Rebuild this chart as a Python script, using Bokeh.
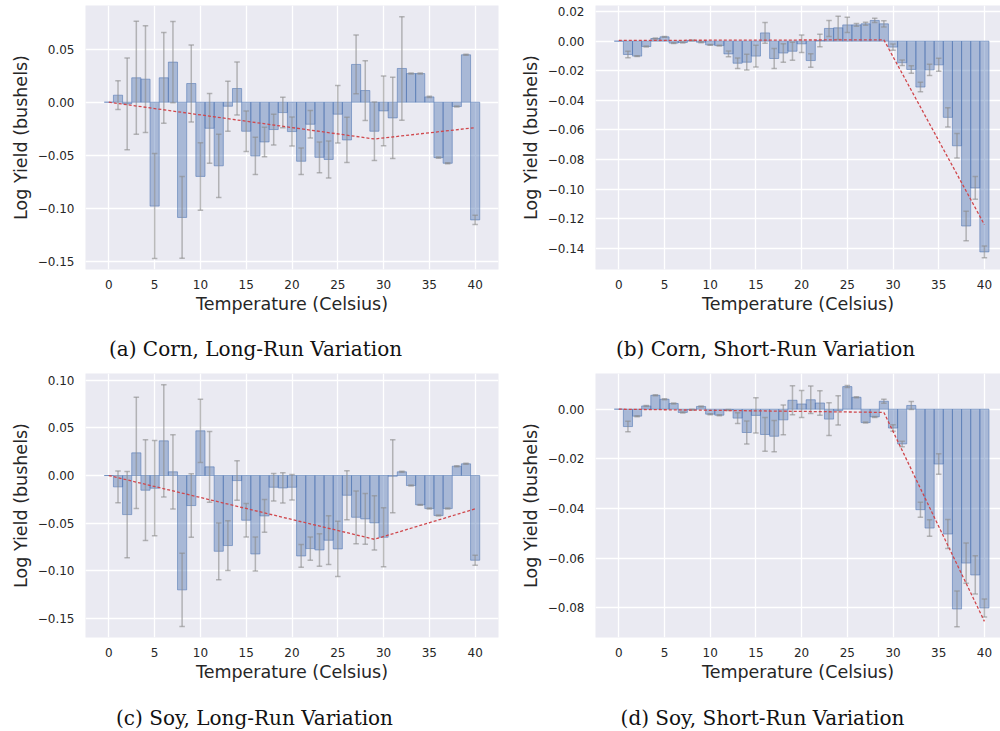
from bokeh.plotting import figure
from bokeh.models import Range1d, FixedTicker
from bokeh.core.properties import value
from bokeh.layouts import column, row
from bokeh.embed import file_html
from bokeh.resources import INLINE

temps = list(range(0, 41))

corn_long = [0.0, 0.0066, -0.0016, 0.023, 0.0217, -0.098, 0.023, 0.0378, -0.1087, 0.0176,
             -0.070, -0.0246, -0.060, -0.0038, 0.0129, -0.0274, -0.0507, -0.0375, -0.0258, -0.0098,
             -0.0277, -0.0557, -0.0208, -0.052, -0.054, -0.0113, -0.0356, 0.0356, 0.011, -0.0274,
             -0.0082, -0.0148, 0.0318, 0.027, 0.027, 0.005, -0.0523, -0.0576, -0.0041, 0.0447, -0.111]
corn_long_err = [0.0, 0.0136, 0.0433, 0.0533, 0.0504, 0.0495, 0.0428, 0.0383, 0.0385, 0.0363,
                 0.0318, 0.0329, 0.0298, 0.0235, 0.0249, 0.019, 0.0176, 0.0139, 0.0145, 0.0144,
                 0.0137, 0.0125, 0.0129, 0.0145, 0.0175, 0.0271, 0.0213, 0.0277, 0.0282, 0.0275,
                 0.0328, 0.0383, 0.0489, 0.0005, 0.0005, 0.0005, 0.0005, 0.0005, 0.0005, 0.0005, 0.0043]

corn_short = [0.0, -0.009, -0.0101, -0.0036, 0.0018, 0.0029, -0.0013, -0.0009, 0.0005, -0.0007,
              -0.0025, -0.003, -0.0086, -0.0149, -0.0142, -0.0101, 0.0056, -0.0117, -0.008, -0.0068,
              -0.0018, -0.0131, 0.0005, 0.0086, 0.009, 0.011, 0.011, 0.0117, 0.014, 0.0117,
              -0.004, -0.0146, -0.0191, -0.031, -0.0194, -0.016, -0.0515, -0.0707, -0.1249, -0.0992, -0.1424]
corn_short_err = [0.0, 0.00225, 0.0003, 0.0003, 0.0003, 0.0003, 0.0003, 0.0003, 0.0003, 0.0003,
                  0.0003, 0.0003, 0.002, 0.0035, 0.0053, 0.0074, 0.007, 0.0068, 0.0063, 0.0061,
                  0.0059, 0.0046, 0.0042, 0.0054, 0.0079, 0.0051, 0.0009, 0.001, 0.0014, 0.0021,
                  0.0021, 0.0019, 0.0025, 0.0032, 0.0038, 0.0044, 0.0065, 0.0083, 0.0099, 0.0077, 0.0039]

soy_long = [0.0, -0.0119, -0.041, 0.0238, -0.0154, -0.0133, 0.0364, 0.0039, -0.120, -0.0315,
            0.0469, 0.0091, -0.0795, -0.0735, -0.0053, -0.0469, -0.0823, -0.0424, -0.0123, -0.013,
            -0.0123, -0.0844, -0.0767, -0.0781, -0.0679, -0.077, -0.0207, -0.0438, -0.0455, -0.0497,
            -0.0648, -0.0007, 0.0039, -0.0105, -0.0308, -0.0347, -0.042, -0.0347, 0.0098, 0.0123, -0.0889]
soy_long_err = [0.0, 0.0166, 0.0453, 0.0585, 0.0529, 0.050, 0.059, 0.039, 0.0385, 0.0334,
                0.0333, 0.0371, 0.0298, 0.0261, 0.0207, 0.0175, 0.0179, 0.0172, 0.0145, 0.0159,
                0.0133, 0.0119, 0.0123, 0.017, 0.0256, 0.029, 0.0256, 0.0277, 0.0266, 0.0284,
                0.031, 0.0383, 0.0005, 0.0005, 0.0005, 0.0005, 0.0005, 0.0005, 0.0005, 0.0005, 0.0053]

soy_short = [0.0, -0.007, -0.0028, 0.0013, 0.0056, 0.004, 0.0023, -0.0013, -0.0002, 0.0011,
             -0.002, -0.0024, -0.0003, -0.0036, -0.0094, -0.0025, -0.0102, -0.0109, -0.0043, 0.0036,
             0.0021, 0.0038, 0.0025, -0.004, -0.0005, 0.0091, 0.0048, -0.0054, -0.0031, 0.0032,
             -0.0076, -0.014, 0.0015, -0.0405, -0.0479, -0.0221, -0.0503, -0.0805, -0.062, -0.0668, -0.0801]
soy_short_err = [0.0, 0.0021, 0.0002, 0.0002, 0.0002, 0.0002, 0.0002, 0.0002, 0.0002, 0.0002,
                 0.0002, 0.0002, 0.0002, 0.0022, 0.0046, 0.0071, 0.0068, 0.0063, 0.006, 0.0058,
                 0.0054, 0.0055, 0.0049, 0.0066, 0.0059, 0.0004, 0.0002, 0.0002, 0.0002, 0.0008,
                 0.0013, 0.0011, 0.0016, 0.003, 0.0033, 0.0041, 0.0058, 0.0072, 0.0081, 0.0077, 0.0036]

fit_x = [0, 29, 40]
corn_long_fit = [0.0, -0.0347, -0.024]
corn_short_fit = [0.0005, 0.0009, -0.124]
soy_long_fit = [0.0, -0.0669, -0.035]
soy_short_fit = [0.0, -0.0013, -0.0855]

x_ticks = [0, 5, 10, 15, 20, 25, 30, 35, 40]
corn_long_yticks = [-0.15, -0.10, -0.05, 0.00, 0.05]
corn_short_yticks = [-0.14, -0.12, -0.10, -0.08, -0.06, -0.04, -0.02, 0.00, 0.02]
soy_long_yticks = [-0.15, -0.10, -0.05, 0.00, 0.05, 0.10]
soy_short_yticks = [-0.08, -0.06, -0.04, -0.02, 0.00]

captions = ["(a) Corn, Long-Run Variation", "(b) Corn, Short-Run Variation",
            "(c) Soy, Long-Run Variation", "(d) Soy, Short-Run Variation"]
x_label = "Temperature (Celsius)"
y_label = "Log Yield (bushels)"

BLUE = "#4C72B0"
TXT = "#262626"


def fmt(v):
    s = f"{v:.2f}"
    if s.startswith("-"):
        s = "\u2212" + s[1:]
    return s


def make_panel(vals, errs, fit_y, yticks, width, height, bl, br, bt, bb, xr, yr):
    p = figure(width=width, height=height, output_backend="svg", toolbar_location=None,
               x_range=Range1d(*xr), y_range=Range1d(*yr),
               min_border_left=bl, min_border_right=br, min_border_top=bt, min_border_bottom=bb)
    p.background_fill_color = "#eaeaf2"
    p.border_fill_color = "white"
    p.outline_line_color = None

    p.vbar(x=temps, top=vals, bottom=0, width=1.0, fill_color=BLUE, fill_alpha=0.42,
           line_color=BLUE, line_alpha=0.55, line_width=1)

    ex = [t for t, e in zip(temps, errs) if e > 0]
    lo = [v - e for v, e in zip(vals, errs) if e > 0]
    hi = [v + e for v, e in zip(vals, errs) if e > 0]
    ecol = "#8c8c8c"
    p.segment(x0=ex, y0=lo, x1=ex, y1=hi, line_color=ecol, line_alpha=0.6, line_width=1.5)
    p.segment(x0=[t - 0.3 for t in ex], y0=lo, x1=[t + 0.3 for t in ex], y1=lo,
              line_color=ecol, line_alpha=0.6, line_width=1.5)
    p.segment(x0=[t - 0.3 for t in ex], y0=hi, x1=[t + 0.3 for t in ex], y1=hi,
              line_color=ecol, line_alpha=0.6, line_width=1.5)

    p.line(fit_x, fit_y, line_color="#d0474c", line_dash="3 2", line_width=1.3)

    p.xaxis.ticker = FixedTicker(ticks=x_ticks)
    p.yaxis.ticker = FixedTicker(ticks=yticks)
    p.yaxis.major_label_overrides = {v: fmt(v) for v in yticks}
    p.xaxis.major_label_overrides = {v: str(v) for v in x_ticks}
    for ax in (p.xaxis, p.yaxis):
        ax.axis_line_color = None
        ax.major_tick_line_color = None
        ax.minor_tick_line_color = None
        ax.major_tick_out = 0
        ax.major_tick_in = 0
        ax.major_label_text_font = "DejaVu Sans"
        ax.major_label_text_font_size = "12px"
        ax.major_label_text_color = TXT
        ax.axis_label_text_font = "DejaVu Sans"
        ax.axis_label_text_font_size = "17.5px"
        ax.axis_label_text_font_style = "normal"
        ax.axis_label_text_color = TXT
    p.xaxis.axis_label = x_label
    p.yaxis.axis_label = y_label
    p.xaxis.major_label_standoff = 10
    p.xaxis.axis_label_standoff = 2
    p.yaxis.major_label_standoff = 11
    p.yaxis.axis_label_standoff = 4

    p.xgrid.ticker = FixedTicker(ticks=x_ticks)
    p.ygrid.ticker = FixedTicker(ticks=yticks)
    for g in (p.xgrid, p.ygrid):
        g.grid_line_color = "white"
        g.grid_line_width = 1.3
    return p


def make_caption(text, width, height, cx, cy):
    c = figure(width=width, height=height, output_backend="svg", toolbar_location=None,
               x_range=Range1d(0, width), y_range=Range1d(0, height),
               x_axis_type=None, y_axis_type=None, min_border=0)
    c.outline_line_color = None
    c.background_fill_color = "white"
    c.border_fill_color = "white"
    c.xgrid.visible = False
    c.ygrid.visible = False
    c.text(x=[cx], y=[cy], text=[text], text_align="center", text_baseline="middle",
           text_font=value("DejaVu Serif"), text_font_size="20px", text_color="#111111")
    return c


pa = make_panel(corn_long, corn_long_err, corn_long_fit, corn_long_yticks,
                508, 322, 85, 10, 5, 53, (-2.55, 42.55), (-0.1578, 0.0912))
pb = make_panel(corn_short, corn_short_err, corn_short_fit, corn_short_yticks,
                492, 322, 87, 0, 5, 53, (-2.55, 41.76), (-0.1543, 0.0241))
pc = make_panel(soy_long, soy_long_err, soy_long_fit, soy_long_yticks,
                508, 318, 85, 10, 3, 51, (-2.55, 42.55), (-0.1700, 0.1071))
pd = make_panel(soy_short, soy_short_err, soy_short_fit, soy_short_yticks,
                492, 318, 87, 0, 3, 51, (-2.55, 41.76), (-0.0920, 0.01438))

ca = make_caption(captions[0], 508, 48, 255, 22)
cb = make_caption(captions[1], 492, 48, 257, 22)
cc = make_caption(captions[2], 508, 43, 254, 14)
cd = make_caption(captions[3], 492, 43, 254, 14)

layout = column(row(pa, pb), row(ca, cb), row(pc, pd), row(cc, cd))
open("out.html", "w").write(file_html(layout, INLINE))
